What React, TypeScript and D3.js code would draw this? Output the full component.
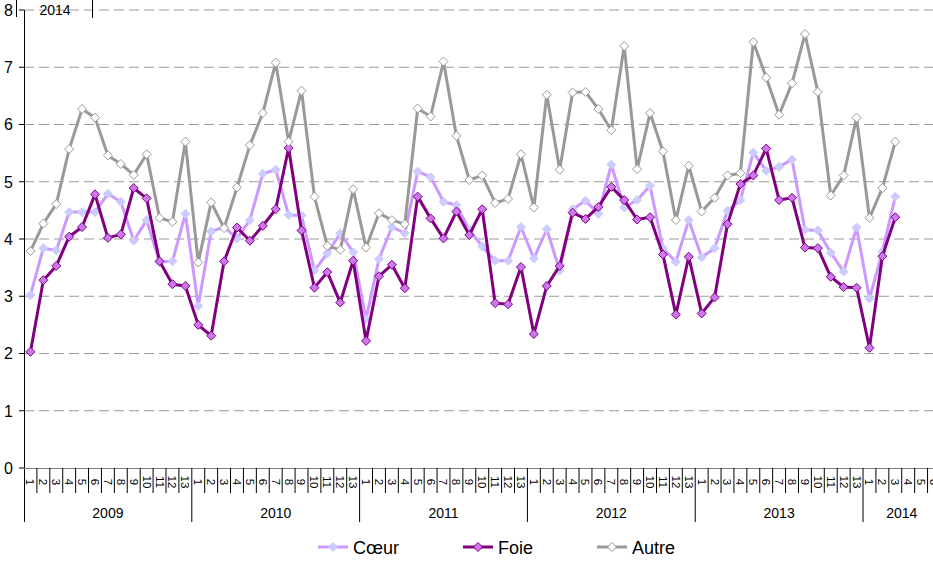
import React from 'react';
import * as d3 from 'd3';

const years = ['2009', '2010', '2011', '2012', '2013', '2014'];
const periodsPerYear = [13, 13, 13, 13, 13, 6];

const coeur = [
  3.02, 3.84, 3.8, 4.47, 4.47, 4.47, 4.79, 4.65, 3.97, 4.33, 3.6, 3.61, 4.44,
  2.83, 4.13, 4.21, 4.01, 4.33, 5.14, 5.21, 4.42, 4.41, 3.45, 3.75, 4.1, 3.77,
  2.6, 3.65, 4.21, 4.1, 5.18, 5.08, 4.65, 4.59, 4.16, 3.87, 3.62, 3.62, 4.21,
  3.66, 4.17, 3.45, 4.52, 4.67, 4.44, 5.3, 4.55, 4.68, 4.93, 3.84, 3.6, 4.33,
  3.68, 3.84, 4.49, 4.68, 5.51, 5.19, 5.26, 5.39, 4.16, 4.15, 3.76, 3.43, 4.2,
  2.96, 3.78, 4.74, null, null, null,
];

const foie = [
  2.03, 3.28, 3.53, 4.04, 4.21, 4.78, 4.02, 4.08, 4.89, 4.71, 3.61, 3.21, 3.18,
  2.5, 2.31, 3.61, 4.2, 3.97, 4.23, 4.52, 5.59, 4.15, 3.15, 3.42, 2.89, 3.62,
  2.22, 3.35, 3.55, 3.14, 4.74, 4.36, 4.01, 4.48, 4.07, 4.52, 2.88, 2.86, 3.51,
  2.34, 3.18, 3.53, 4.46, 4.35, 4.56, 4.91, 4.68, 4.34, 4.38, 3.73, 2.68, 3.69,
  2.7, 2.98, 4.26, 4.96, 5.11, 5.58, 4.68, 4.72, 3.85, 3.84, 3.34, 3.16, 3.15,
  2.1, 3.7, 4.38, null, null, null,
];

const autre = [
  3.79, 4.27, 4.61, 5.57, 6.27, 6.12, 5.46, 5.31, 5.12, 5.48, 4.37, 4.3, 5.7,
  3.59, 4.64, 4.19, 4.9, 5.64, 6.2, 7.08, 5.7, 6.59, 4.74, 3.88, 3.81, 4.87,
  3.85, 4.45, 4.33, 4.26, 6.28, 6.14, 7.1, 5.8, 5.03, 5.11, 4.63, 4.7, 5.48,
  4.55, 6.52, 5.21, 6.56, 6.57, 6.27, 5.9, 7.37, 5.22, 6.2, 5.53, 4.33, 5.28,
  4.48, 4.72, 5.11, 5.15, 7.44, 6.82, 6.17, 6.72, 7.58, 6.57, 4.76, 5.11, 6.12,
  4.37, 4.89, 5.7, null, null, null,
];

const yTicks = [0, 1, 2, 3, 4, 5, 6, 7, 8];

const FONT = '"Liberation Sans", Arial, sans-serif';

type Cat = { key: string; year: string; period: number };

const cats: Cat[] = [];
years.forEach((y, yi) => {
  for (let p = 1; p <= periodsPerYear[yi]; p++) cats.push({ key: `${y}-${p}`, year: y, period: p });
});

const series = [
  { name: 'Cœur', values: coeur, line: '#CC99FF', fill: '#CCCCFF', stroke: '#CCCCFF' },
  { name: 'Foie', values: foie, line: '#800080', fill: '#CC77EE', stroke: '#800080' },
  { name: 'Autre', values: autre, line: '#999999', fill: '#FFFFFF', stroke: '#999999' },
];

const diamond = (cx: number, cy: number, r: number) =>
  `M${cx},${cy - r}L${cx + r},${cy}L${cx},${cy + r}L${cx - r},${cy}Z`;

export default function App() {
  const width = 933;
  const height = 564;
  const left = 24;
  const bandW = 12.908;
  const top = 10;
  const bottom = 468;

  const x = d3
    .scaleBand<string>()
    .domain(cats.map((c) => c.key))
    .range([left, left + cats.length * bandW])
    .paddingInner(0)
    .paddingOuter(0);
  const y = d3.scaleLinear().domain([0, 8]).range([bottom, top]);

  const cx = (i: number) => (x(cats[i].key) as number) + bandW / 2;

  const lineGen = d3
    .line<number | null>()
    .defined((d) => d != null)
    .x((_, i) => cx(i))
    .y((d) => y(d as number));

  // year spans
  const yearSpans: { year: string; x0: number; x1: number }[] = [];
  let idx = 0;
  years.forEach((yr, yi) => {
    const x0 = x(cats[idx].key) as number;
    const x1 = x0 + periodsPerYear[yi] * bandW;
    yearSpans.push({ year: yr, x0, x1 });
    idx += periodsPerYear[yi];
  });

  const legendItems = [
    { s: series[0], x0: 318 },
    { s: series[1], x0: 463 },
    { s: series[2], x0: 597 },
  ];

  return (
    <svg
      width={width}
      height={height}
      style={{ position: 'absolute', left: 0, top: 0, background: '#fff', fontFamily: FONT }}
    >
      <rect width={width} height={height} fill="#fff" />

      {/* gridlines */}
      {yTicks.filter((t) => t > 0).map((t) => (
        <line
          key={`g${t}`}
          x1={left}
          x2={width}
          y1={y(t)}
          y2={y(t)}
          stroke="#9a9a9a"
          strokeWidth={1}
          strokeDasharray="10,5"
        />
      ))}

      {/* stray year label at top-left */}
      <line x1={16.5} x2={16.5} y1={0} y2={17} stroke="#000" />
      <line x1={92.5} x2={92.5} y1={0} y2={18} stroke="#000" />
      <text x={55} y={15} fontSize={14} textAnchor="middle" fill="#000">2014</text>

      {/* y axis */}
      <line x1={left + 0.5} x2={left + 0.5} y1={top} y2={522} stroke="#000" />
      {yTicks.map((t) => (
        <g key={`yt${t}`}>
          <line x1={19} x2={left} y1={y(t)} y2={y(t)} stroke="#000" />
          <text x={13} y={y(t)} dy="0.36em" fontSize={16} textAnchor="end" fill="#000">
            {t}
          </text>
        </g>
      ))}

      {/* x axis */}
      <line x1={19} x2={width} y1={bottom + 0.5} y2={bottom + 0.5} stroke="#808080" strokeWidth={1.2} />
      {cats.map((c, i) => {
        const xr = (x(c.key) as number) + bandW;
        return (
          <g key={`xc${c.key}`}>
            {c.period !== periodsPerYear[years.indexOf(c.year)] && (
              <line x1={xr} x2={xr} y1={bottom} y2={493} stroke="#000" strokeWidth={1} />
            )}
            <text
              transform={`translate(${cx(i)},${482}) rotate(90)`}
              dy="0.35em"
              fontSize={11.5}
              textAnchor="middle"
              fill="#000"
            >
              {c.period}
            </text>
          </g>
        );
      })}
      {yearSpans.map((ys) => (
        <g key={`yr${ys.year}`}>
          <line x1={ys.x1} x2={ys.x1} y1={bottom} y2={522} stroke="#000" />
          <text x={(ys.x0 + ys.x1) / 2} y={518} fontSize={14} textAnchor="middle" fill="#000">
            {ys.year}
          </text>
        </g>
      ))}

      {/* series, drawn in order so Autre ends on top */}
      {series.map((s) => (
        <g key={s.name}>
          <path d={lineGen(s.values) || ''} fill="none" stroke={s.line} strokeWidth={3} strokeLinejoin="round" />
          {s.values.map((v, i) =>
            v == null ? null : (
              <path key={i} d={diamond(cx(i), y(v), 4.5)} fill={s.fill} stroke={s.stroke} strokeWidth={1} />
            )
          )}
        </g>
      ))}

      {/* legend */}
      {legendItems.map(({ s, x0 }) => (
        <g key={`lg${s.name}`}>
          <line x1={x0} x2={x0 + 30} y1={547} y2={547} stroke={s.line} strokeWidth={3} />
          <path d={diamond(x0 + 15, 547, 4.5)} fill={s.fill} stroke={s.stroke} strokeWidth={1} />
          <text x={x0 + 35} y={554} fontSize={18} fill="#000">
            {s.name}
          </text>
        </g>
      ))}
    </svg>
  );
}
